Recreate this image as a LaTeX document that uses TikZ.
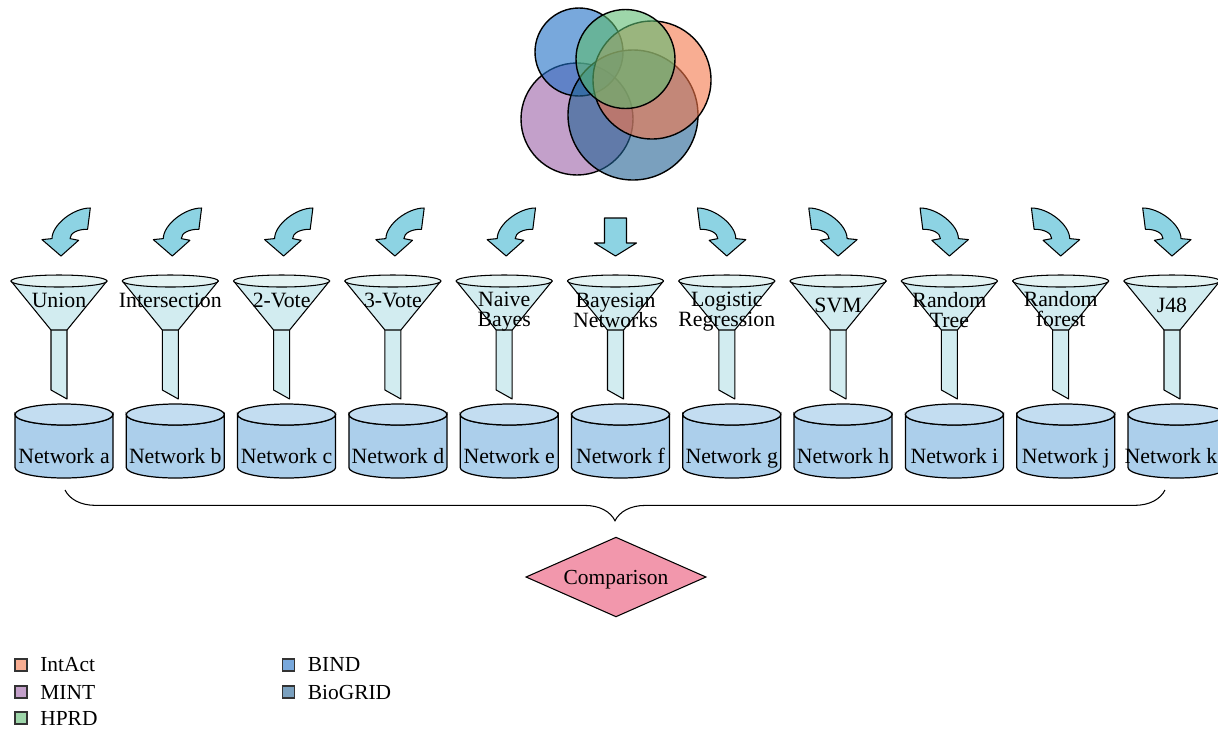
\documentclass[tikz,border=0pt]{standalone}
\usepackage{fontspec}
\setmainfont{Liberation Serif}
\usetikzlibrary{shapes.geometric,decorations.pathreplacing}
\definecolor{mintc}{RGB}{155,97,167}
\definecolor{bindc}{RGB}{30,110,197}
\definecolor{biogridc}{RGB}{33,97,147}
\definecolor{intactc}{RGB}{243,118,73}
\definecolor{hprdc}{RGB}{93,187,113}
\definecolor{arrowc}{RGB}{141,211,227}
\definecolor{conec}{RGB}{210,236,240}
\definecolor{conetopc}{RGB}{228,243,243}
\definecolor{cylbodyc}{RGB}{172,207,235}
\definecolor{cyltopc}{RGB}{195,221,241}
\definecolor{cmpc}{RGB}{242,151,172}
\tikzset{
  venn/.style={draw=black,line width=0.8pt,fill opacity=0.6},
  arrowstyle/.style={draw=black,line width=0.6pt,fill=arrowc,line join=round},
  funnelstyle/.style={draw=black,line width=0.6pt,fill=conec,line join=round},
  funneltop/.style={draw=black,line width=0.6pt,fill=conetopc},
  cylbody/.style={draw=black,line width=0.7pt,fill=cylbodyc},
  cyltop/.style={draw=black,line width=0.7pt,fill=cyltopc},
  lab/.style={align=center,inner sep=0pt,font=\fontsize{12.4}{11.4}\selectfont},
  netlab/.style={anchor=base,inner sep=0pt,font=\fontsize{12.4}{13}\selectfont},
  legsq/.style={draw=black!80,line width=0.6pt,fill opacity=0.6},
  curvarrow/.pic={\draw[arrowstyle] (0,0) -- (17.6,-15.7) -- (9,-17.4)
      .. controls (9,-23) and (17,-27) .. (26.6,-26.7) -- (29.3,-48)
      .. controls (12,-48) and (-9,-31) .. (-9,-17.4) -- (-19,-16.4) -- cycle;},
  straightarrow/.pic={\draw[arrowstyle] (0,0) -- (21,-13) -- (11,-13) -- (11,-38)
      -- (-11,-38) -- (-11,-13) -- (-21,-13) -- cycle;}
}
\begin{document}
\begin{tikzpicture}[x=0.02cm,y=-0.02cm,font=\fontsize{12.2}{13}\selectfont]
\useasboundingbox (0,0) rectangle (1218,728);
% Venn diagram
\draw[venn,fill=mintc] (577,119) circle[radius=56];
\draw[venn,fill=bindc] (579,52) circle[radius=44];
\draw[venn,fill=biogridc] (633,115) circle[radius=65];
\draw[venn,fill=intactc] (652,80) circle[radius=59];
\draw[venn,fill=hprdc] (625.5,59) circle[radius=49.5];
% columns
\foreach \i/\lab/\ly/\net in {0/Union/300/a, 1/Intersection/300/b, 2/2-Vote/300/c,
   3/3-Vote/300/d, 4/{Naive\\Bayes}/312/e, 5/{Bayesian\\Networks}/310.5/f,
   6/{Logistic\\Regression}/312/g, 7/SVM/305/h, 8/{Random\\Tree}/310/i,
   9/{Random\\forest}/309/j, 10/J48/305/k} {
  \pgfmathsetmacro\c{59+111.3*\i}
  \pgfmathsetmacro\d{\c+5}
  \pgfmathsetmacro\tx{min(\d,1171)}
  % arrow
  \ifnum\i<5
    \pic at (\c+2,256) {curvarrow};
  \else\ifnum\i=5
    \pic at (\c,256) {straightarrow};
  \else
    \pic[xscale=-1] at (\c,256) {curvarrow};
  \fi\fi
  % funnel
  \draw[funnelstyle] (\c-8,329) -- (\c+8,329) -- (\c+8,399) -- (\c-8,390) -- cycle;
  \draw[funnelstyle] (\c-48,281) -- (\c-8,330) -- (\c+8,330) -- (\c+48,281) -- cycle;
  \draw[funneltop] (\c,281) ellipse[x radius=48,y radius=6];
  \node[lab] (f\net) at (\c,\ly) {\lab};
  % cylinder
  \draw[cylbody] (\d-49,414.5) -- (\d-49,467.5)
     arc[start angle=180,end angle=0,x radius=49,y radius=10.5] -- (\d+49,414.5)
     arc[start angle=0,end angle=180,x radius=49,y radius=10.5] -- cycle;
  \draw[cyltop] (\d,414.5) ellipse[x radius=49,y radius=10.5];
  \node[netlab] (n\net) at (\tx,463) {Network \net};
}
% brace
\coordinate (bl) at (65,490);
\coordinate (br) at (1165,490);
\draw[line width=0.6pt,decorate,decoration={brace,amplitude=17.5pt}] (br) -- (bl);
% comparison
\node[diamond,draw=black,line width=0.6pt,fill=cmpc,minimum width=102.6pt,
  minimum height=45.4pt,inner sep=0pt,aspect=2.26,text depth=0pt] (cmp) at (616,577) {Comparison};
% legend
\foreach \y/\col/\t/\xx in {665/intactc/IntAct/21, 692/mintc/MINT/21, 718/hprdc/HPRD/21,
   665/bindc/BIND/288.5, 692/biogridc/BioGRID/288.5} {
  \draw[legsq,fill=\col] (\xx-6,\y-6) rectangle (\xx+6,\y+6);
  \node[anchor=west,inner sep=0pt] (leg\t) at (\xx+19,\y) {\t};
}
\end{tikzpicture}
\end{document}
